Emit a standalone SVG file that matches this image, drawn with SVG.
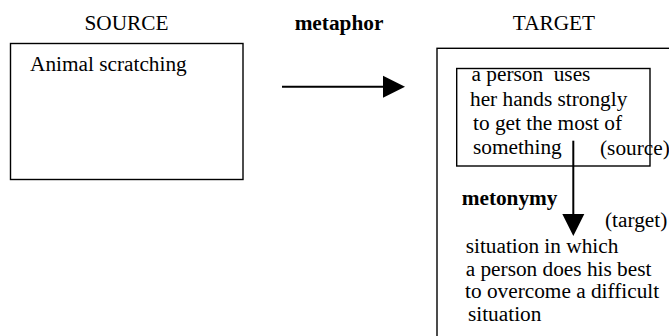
<svg xmlns="http://www.w3.org/2000/svg" width="669" height="336" viewBox="0 0 669 336">
<style>
  text { font-family: 'Liberation Serif', 'Times New Roman', Times, serif; font-size: 21.3px; fill: #000; white-space: pre; }
  .b { font-weight: bold; }
  .box { fill: none; stroke: #000; stroke-width: 1.4; }
  .conn { stroke: #000; stroke-width: 2; fill: none; }
  .head { fill: #000; stroke: none; }
</style>
<rect width="669" height="336" fill="#fff"/>
<g id="labels">
  <text x="126.5" y="30" text-anchor="middle">SOURCE</text>
  <text class="b" x="339" y="30" text-anchor="middle">metaphor</text>
  <text x="554" y="30" text-anchor="middle">TARGET</text>
</g>
<g id="source">
  <rect class="box" x="10.5" y="43.5" width="232.5" height="136"/>
  <text x="30" y="70.5">Animal scratching</text>
</g>
<g id="target">
  <rect class="box" x="437" y="48.3" width="260" height="320"/>
</g>
<g id="target-source">
  <rect class="box" x="456.7" y="68.5" width="193.3" height="97.5"/>
  <text x="471.5" y="81">a person  uses</text>
  <text x="470" y="105.5">her hands strongly</text>
  <text x="473" y="129.5">to get the most of</text>
  <text x="473" y="154">something</text>
  <text x="600" y="155">(source)</text>
</g>
<g id="target-target">
  <text x="605" y="227">(target)</text>
  <text x="465.7" y="253">situation in which</text>
  <text x="465.7" y="275.5">a person does his best</text>
  <text x="465" y="298">to overcome a difficult</text>
  <text x="468" y="320.5">situation</text>
</g>
<g id="connectors">
  <line class="conn" x1="282" y1="86.7" x2="384" y2="86.7"/>
  <polygon class="head" points="383,75.7 405,86.7 383,97.7"/>
  <line class="conn" x1="573.3" y1="140.7" x2="573.3" y2="215"/>
  <polygon class="head" points="562.3,214 584.3,214 573.3,236"/>
  <text class="b" x="461.7" y="205">metonymy</text>
</g>
</svg>
